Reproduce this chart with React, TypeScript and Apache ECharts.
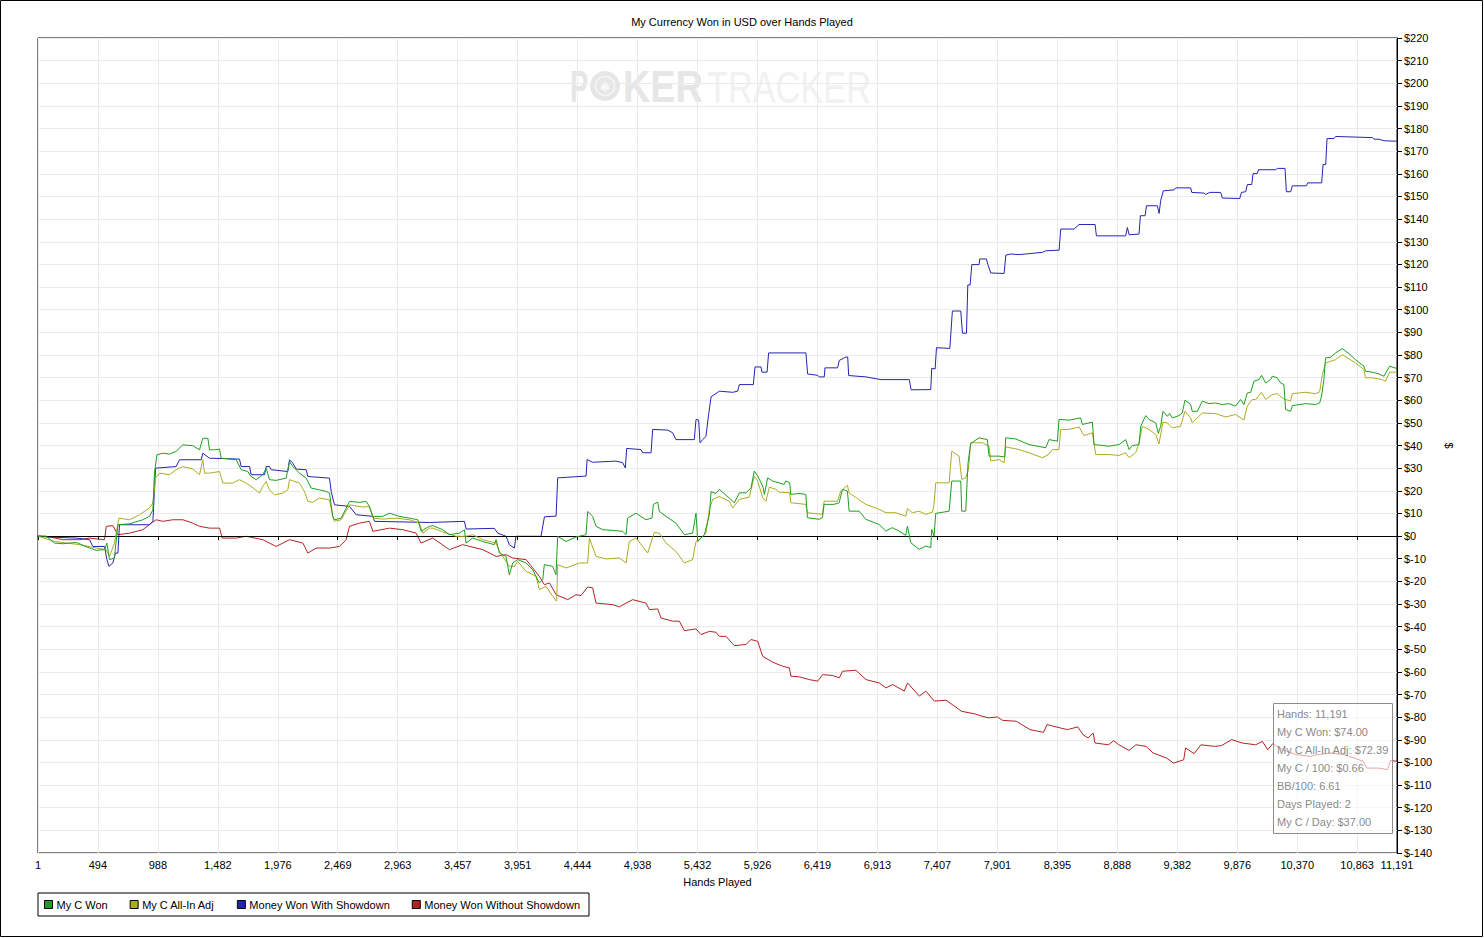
import React, { useEffect, useRef } from "react";
import * as echarts from "echarts";

const FONT = '"Liberation Sans", Arial, Helvetica, sans-serif';

const chartTitle = "My Currency Won in USD over Hands Played";
const xAxisName = "Hands Played";
const yAxisName = "$";
const xTickValues = [1, 494, 988, 1482, 1976, 2469, 2963, 3457, 3951, 4444, 4938, 5432, 5926, 6419, 6913, 7407, 7901, 8395, 8888, 9382, 9876, 10370, 10863, 11191];
const seriesNames = ["My C Won", "My C All-In Adj", "Money Won With Showdown", "Money Won Without Showdown"];
const seriesColors = ["#1ea01e", "#acac22", "#2424b4", "#b42222"];
const tooltipLines = [
  "Hands: 11,191",
  "My C Won: $74.00",
  "My C All-In Adj: $72.39",
  "My C / 100: $0.66",
  "BB/100: 6.61",
  "Days Played: 2",
  "My C / Day: $37.00",
];

const myCWon = [
  [1,0],[69,-0.1],[137,-3.1],[206,-3.4],[316,-2.8],[425,-5.3],[480,-6.3],[549,-6.0],[568,-3.1],[590,-10.4],[630,-9.7],[659,5.0],[755,5.4],[864,7.2],[919,8.7],[947,11.6],[960,27.8],[980,35.9],[1029,36.6],[1084,36.2],[1139,37.4],[1194,40.3],[1276,39.9],[1331,38.1],[1358,43.2],[1400,43.2],[1413,38.1],[1454,38.1],[1496,38.4],[1509,34.4],[1578,34.0],[1633,33.7],[1674,29.3],[1729,28.5],[1756,26.3],[1797,24.9],[1852,27.1],[1880,30.0],[1907,24.9],[1962,24.6],[2044,25.6],[2072,32.9],[2099,30.7],[2154,27.8],[2209,25.6],[2250,21.2],[2319,20.4],[2374,19.7],[2401,19.0],[2428,8.7],[2442,7.2],[2497,7.9],[2566,15.3],[2648,14.9],[2703,15.3],[2730,13.1],[2758,8.7],[2840,8.7],[2895,10.1],[2977,8.7],[3060,7.9],[3128,7.2],[3156,2.1],[3197,3.5],[3224,4.3],
  [3251,4.6],[3334,2.8],[3388,0.6],[3471,1.3],[3512,2.8],[3526,-3.1],[3580,-0.9],[3663,-2.4],[3759,-3.8],[3773,-1.6],[3800,-7.5],[3855,-9.0],[3882,-17.1],[3910,-11.9],[3951,-10.4],[4020,-11.9],[4074,-14.9],[4129,-20.7],[4157,-19.3],[4170,-12.6],[4239,-13.4],[4266,-17.1],[4280,-0.1],[4349,-2.4],[4431,-0.4],[4513,0.6],[4527,10.9],[4568,8.7],[4596,4.3],[4651,2.8],[4733,2.5],[4815,2.1],[4843,0.6],[4856,7.9],[4925,10.1],[5007,7.2],[5057,8.0],[5068,14.0],[5103,15.0],[5117,10.9],[5172,8.7],[5254,5.7],[5323,0.6],[5391,1.3],[5419,10.1],[5433,-2.4],[5488,0.6],[5529,9.4],[5543,19.6],[5584,18.8],[5611,20.6],[5693,16.8],[5735,14.7],[5776,19.1],[5831,19.1],[5872,21.3],[5899,28.7],[5927,26.5],[5968,22.1],[5982,18.4],[6009,25.7],[6050,24.3],
  [6103,23.5],[6145,22.8],[6158,24.3],[6191,23.5],[6199,18.4],[6268,18.8],[6323,18.4],[6337,8.1],[6433,7.4],[6460,8.1],[6474,14.0],[6556,14.0],[6597,14.7],[6625,20.6],[6652,20.1],[6666,19.9],[6680,11.0],[6762,11.0],[6817,7.4],[6927,5.1],[6982,2.2],[7036,3.7],[7091,2.2],[7146,0.3],[7160,4.4],[7187,-2.9],[7256,-5.9],[7311,-4.4],[7352,-5.1],[7360,2.9],[7379,0],[7393,10.0],[7503,11.0],[7525,24.3],[7599,24.3],[7607,11.0],[7640,11.0],[7659,32.4],[7681,40.9],[7750,43.4],[7818,42.6],[7832,35.3],[7914,35.3],[7961,34.9],[7969,43.4],[8052,42.9],[8161,40.4],[8299,39.0],[8326,42.6],[8395,41.9],[8408,51.5],[8491,51.2],[8587,52.2],[8600,49.3],[8683,50.3],[8696,40.4],[8820,39.7],[8902,40.4],[8957,42.6],[8985,38.2],[9012,40.0],[9067,40.4],[9081,48.5],[9122,53.2],
  [9149,51.5],[9204,50.0],[9226,45.3],[9245,48.5],[9264,55.1],[9300,52.9],[9319,54.1],[9341,52.2],[9396,53.2],[9423,54.4],[9445,60.0],[9492,58.1],[9505,55.1],[9547,55.1],[9588,59.6],[9643,58.5],[9698,58.8],[9752,58.1],[9807,58.5],[9862,57.4],[9903,60.3],[9931,58.1],[9958,63.2],[9986,63.5],[10013,68.4],[10054,69.1],[10076,71.0],[10109,67.6],[10150,69.1],[10164,70.6],[10205,69.9],[10233,67.6],[10260,66.9],[10274,55.9],[10315,55.1],[10329,57.6],[10438,58.5],[10521,58.1],[10554,58.8],[10570,61.8],[10589,69.1],[10603,78.7],[10644,79.0],[10685,80.9],[10740,82.8],[10795,80.6],[10850,77.9],[10919,75.0],[10932,72.8],[10987,72.4],[11042,71.6],[11083,70.6],[11130,75.0],[11191,74.0],
];

const myCAllInAdj = [
  [1,0],[137,-2.4],[343,-3.8],[480,-5.3],[563,-6.0],[590,-9.0],[631,-3.1],[667,7.9],[755,7.2],[837,9.4],[919,12.4],[947,14.6],[969,25.6],[1002,27.8],[1084,27.1],[1139,29.3],[1194,30.7],[1276,29.6],[1331,27.1],[1358,33.7],[1372,27.8],[1413,27.8],[1496,28.5],[1523,23.4],[1605,23.4],[1660,24.9],[1715,23.4],[1756,21.9],[1825,19.0],[1852,21.9],[1880,24.1],[1907,20.4],[1948,18.2],[2017,19.0],[2058,20.4],[2072,24.9],[2154,23.4],[2195,19.7],[2223,15.3],[2264,14.9],[2319,16.8],[2401,16.0],[2428,8.7],[2442,6.5],[2497,7.2],[2566,13.8],[2675,12.8],[2730,13.1],[2758,7.9],[2840,7.5],[2950,7.9],[3060,7.2],[3142,5.7],[3169,1.3],[3224,3.5],
  [3251,3.5],[3361,1.3],[3443,-0.1],[3526,-0.1],[3580,0.6],[3663,-1.6],[3773,-3.1],[3800,-6.8],[3882,-13.4],[3923,-13.4],[3951,-11.2],[4020,-15.6],[4102,-17.8],[4129,-23.7],[4184,-22.2],[4239,-26.6],[4272,-28.8],[4280,-12.6],[4349,-14.1],[4459,-11.9],[4527,-11.9],[4541,-0.9],[4596,-9.0],[4678,-10.1],[4788,-9.7],[4843,-11.9],[4870,-2.4],[4925,-0.9],[5021,-7.5],[5076,1.6],[5117,1.3],[5172,-3.1],[5254,-6.8],[5323,-11.9],[5391,-10.4],[5419,-2.4],[5460,-0.9],[5501,1.3],[5529,11.8],[5556,16.2],[5611,17.5],[5693,15.4],[5721,12.4],[5776,16.2],[5858,17.2],[5899,26.5],[5927,24.3],[5968,16.9],[5995,15.4],[6023,21.6],[6078,20.6],
  [6103,19.4],[6191,19.1],[6199,14.7],[6323,14.0],[6337,10.3],[6460,9.6],[6474,15.4],[6584,15.4],[6611,19.9],[6666,22.4],[6680,19.1],[6817,14.0],[6927,11.8],[6982,10.3],[7064,10.3],[7146,8.8],[7160,12.1],[7201,10.3],[7256,11.0],[7311,9.6],[7366,10.6],[7379,14.0],[7393,23.5],[7503,23.5],[7525,37.5],[7585,35.3],[7607,25.0],[7640,25.7],[7662,29.4],[7681,41.2],[7777,41.2],[7832,39.7],[7846,33.1],[7914,33.8],[7956,32.4],[7969,39.4],[8079,38.2],[8161,36.8],[8271,34.6],[8321,36.0],[8353,38.2],[8408,38.2],[8422,47.1],[8491,47.1],[8573,48.2],[8614,44.4],[8683,45.6],[8710,36.0],[8820,36.0],[8902,35.6],[8957,36.8],[8985,34.6],[9039,36.8],[9067,41.2],[9094,48.5],
  [9149,47.1],[9204,44.9],[9231,40.7],[9264,50.3],[9300,50.0],[9341,47.8],[9409,48.5],[9445,55.1],[9492,52.2],[9505,50.0],[9588,54.4],[9698,54.1],[9780,52.6],[9862,53.7],[9931,51.2],[9958,57.4],[9999,60.3],[10027,60.3],[10076,63.5],[10109,60.3],[10164,62.5],[10205,62.9],[10246,61.0],[10274,60.3],[10315,59.6],[10329,62.9],[10438,63.5],[10521,62.9],[10554,63.7],[10576,71.3],[10603,76.5],[10685,77.9],[10740,80.1],[10850,76.5],[10919,73.5],[10932,69.9],[10987,69.9],[11070,69.1],[11097,68.4],[11130,72.4],[11191,72.39],
];

const wonWithShowdown = [
  [1,0],[69,-0.4],[316,-0.9],[425,-1.6],[453,-4.6],[549,-4.6],[568,-10.4],[585,-13.4],[617,-11.9],[639,-7.5],[659,-7.5],[672,5.0],[919,5.0],[947,6.5],[969,30.0],[1139,30.7],[1166,33.7],[1345,33.7],[1358,36.6],[1413,34.4],[1660,34.0],[1674,30.7],[1743,30.7],[1756,27.1],[1866,27.1],[1880,30.7],[1907,30.7],[1921,29.3],[2058,28.5],[2072,33.7],[2099,32.2],[2127,29.6],[2209,29.3],[2223,26.3],[2401,25.6],[2415,19.7],[2442,13.8],[2566,13.1],[2621,9.4],[2758,8.7],[2772,6.5],[3224,6.0],
  [3512,6.5],[3526,3.1],[3759,3.4],[3786,1.3],[3855,-0.1],[3882,-3.8],[3923,-5.3],[3937,-0.1],[4143,-0.1],[4171,8.5],[4267,8.8],[4280,25.7],[4514,26.5],[4522,33.8],[4568,32.6],[4760,33.1],[4815,32.4],[4837,30.1],[4848,38.7],[4966,38.2],[4980,36.8],[5049,36.8],[5062,47.1],[5186,46.8],[5227,45.6],[5254,42.6],[5405,42.6],[5419,51.5],[5441,51.2],[5452,41.2],[5474,42.6],[5501,44.1],[5523,53.7],[5543,61.5],[5611,64.0],[5721,63.5],[5762,64.0],[5776,66.9],[5891,66.9],[5905,74.7],[5954,74.7],[5962,72.4],[6004,72.4],[6017,80.9],[6324,80.9],[6338,71.6],[6421,71.0],[6434,70.3],[6475,70.3],[6481,74.3],[6585,74.3],[6599,77.6],[6654,79.1],[6668,79.1],[6676,70.9],[6819,70.3],[6942,69.1],[7175,69.1],[7190,64.6],[7352,64.7],
  [7360,74.1],[7388,73.8],[7399,83.2],[7509,82.9],[7530,99.4],[7599,99.4],[7613,89.6],[7646,89.6],[7657,110.9],[7676,110.9],[7690,119.9],[7750,119.9],[7755,122.4],[7810,122.4],[7821,120.1],[7846,116.2],[7956,116.0],[7970,124.1],[8011,124.6],[8079,124.3],[8134,124.6],[8271,125.3],[8299,126.0],[8409,126.3],[8422,135.6],[8532,135.6],[8573,137.6],[8705,137.6],[8716,132.6],[8957,132.6],[8971,136.3],[8985,133.1],[9067,133.4],[9078,141.5],[9117,141.5],[9128,145.9],[9218,145.9],[9232,142.5],[9245,148.1],[9267,152.5],[9355,152.9],[9369,153.8],[9492,153.8],[9501,151.8],[9602,151.5],[9616,150.9],[9649,151.8],[9739,151.8],[9753,149.3],[9896,149.1],[9910,151.8],[9945,152.1],[9959,155.3],[9995,155.3],[10006,160.1],[10041,160.1],[10050,161.8],[10192,161.8],[10206,162.4],[10269,162.4],[10280,152.1],[10316,152.1],[10329,154.7],[10445,154.7],[10456,156.0],[10571,156.0],[10582,164.1],[10604,164.1],[10615,175.6],[10672,175.6],[10686,176.5],[10988,176.0],[11002,175.3],[11043,175.3],[11084,174.6],[11191,174.4],
];

const wonWithoutShowdown = [
  [1,0],[69,-0.1],[206,-1.6],[343,-1.6],[425,-0.9],[549,-1.6],[563,4.3],[617,4.6],[659,0.6],[755,1.3],[864,2.8],[933,5.7],[974,7.2],[1029,6.5],[1111,7.2],[1194,7.2],[1276,5.7],[1331,4.3],[1413,3.5],[1496,3.5],[1518,-0.9],[1633,-0.9],[1715,-0.1],[1852,-1.6],[1962,-4.6],[2072,-1.6],[2182,-3.1],[2223,-7.5],[2291,-5.3],[2401,-5.3],[2483,-4.6],[2538,-1.6],[2566,4.3],[2648,5.7],[2730,6.5],[2758,2.1],[2895,3.5],[3005,2.8],[3114,1.3],[3155,-3.1],[3251,-0.9],[3388,-6.0],[3498,-3.8],[3663,-6.0],[3773,-9.0],[3855,-8.2],[3910,-9.7],[4020,-10.4],[4129,-17.8],[4171,-21.5],[4212,-20.7],[4267,-25.9],[4363,-28.1],[4431,-25.9],[4472,-26.3],[4527,-22.5],[4568,-22.9],[4596,-29.6],[4733,-30.3],[4788,-31.3],[4843,-29.6],[4898,-28.1],[5007,-29.6],[5035,-32.5],[5103,-32.2],[5131,-36.2],[5227,-37.6],[5282,-37.6],[5323,-41.8],[5419,-41.0],[5460,-43.5],[5529,-42.1],[5584,-42.5],[5611,-44.3],[5666,-44.3],[5735,-48.4],[5831,-47.9],[5872,-45.7],[5927,-46.5],[5968,-53.1],[6050,-55.7],[6132,-57.5],[6187,-58.2],[6201,-61.9],[6270,-62.2],[6352,-63.4],[6421,-64.1],[6462,-61.2],[6544,-61.6],[6599,-62.6],[6626,-59.7],[6736,-59.3],[6819,-63.4],[6928,-64.9],[6983,-67.1],[7038,-65.6],[7134,-68.5],[7161,-64.9],[7258,-70.7],[7312,-68.5],[7381,-72.9],[7477,-72.5],
  [7549,-75.2],[7605,-77.4],[7718,-78.6],[7774,-79.6],[7831,-80.3],[7901,-79.9],[7943,-81.4],[8056,-81.8],[8169,-85.5],[8281,-86.7],[8309,-83.3],[8422,-84.8],[8478,-85.5],[8563,-84.3],[8605,-87.7],[8647,-89.2],[8689,-87.0],[8704,-91.4],[8816,-92.2],[8858,-90.4],[8901,-92.2],[8985,-94.7],[9041,-92.2],[9126,-92.9],[9182,-95.8],[9295,-98.1],[9351,-100.3],[9435,-98.8],[9450,-93.6],[9520,-96.1],[9576,-92.2],[9689,-92.9],[9745,-92.6],[9830,-89.9],[9914,-91.4],[10027,-92.2],[10083,-90.7],[10126,-94.4],[10168,-91.7],[10252,-94.4],[10365,-96.6],[10478,-97.3],[10534,-96.6],[10647,-95.8],[10759,-96.6],[10914,-99.5],[10942,-102.5],[11041,-102.5],[11111,-103.2],[11139,-99.1],[11191,-99.5],
];

const seriesData = [myCWon, myCAllInAdj, wonWithShowdown, wonWithoutShowdown];
const seriesZ = [6, 5, 4, 3];

export default function App() {
  const ref = useRef<HTMLDivElement>(null);

  useEffect(() => {
    document.body.style.margin = "0";
    if (!ref.current) return;
    const chart = echarts.init(ref.current, null, { renderer: "svg" });

    const series: any[] = seriesNames.map((name, i) => ({
      name,
      type: "line",
      data: seriesData[i],
      showSymbol: false,
      symbol: "none",
      z: seriesZ[i],
      color: seriesColors[i],
      lineStyle: { color: seriesColors[i], width: 1 },
      itemStyle: { color: seriesColors[i], borderColor: "#000", borderWidth: 1 },
      emphasis: { disabled: true },
      ...(i === 0
        ? {
            markLine: {
              silent: true,
              symbol: ["none", "none"],
              label: { show: false },
              lineStyle: { color: "#000", width: 1, type: "solid" },
              emphasis: { disabled: true },
              data: [{ yAxis: 0 }],
            },
          }
        : {}),
    }));

    const tipX = 1273;
    const tipY = 703;
    const wmStyle = (text: string, font: string, fill: string, align: string) => ({
      text,
      font,
      fill,
      textAlign: align,
      textVerticalAlign: "middle",
      align,
      verticalAlign: "middle",
    });
    const graphics: any[] = [
      {
        type: "rect",
        z: 0,
        silent: true,
        shape: { x: 0.5, y: 0.5, width: 1482, height: 936 },
        style: { fill: "none", stroke: "#000", lineWidth: 1 },
      },
      { type: "text", z: 0, silent: true, x: 570, y: 87, scaleX: 0.62, style: wmStyle("P", `bold 44px ${FONT}`, "#e6e6e6", "left") },
      { type: "circle", z: 0, silent: true, shape: { cx: 605, cy: 86, r: 15 }, style: { fill: "#e6e6e6" } },
      { type: "circle", z: 0, silent: true, shape: { cx: 605, cy: 86, r: 9.5 }, style: { fill: "none", stroke: "#f6f6f6", lineWidth: 1.5 } },
      { type: "text", z: 0, silent: true, x: 605, y: 87, style: wmStyle("♠", `15px "DejaVu Sans", sans-serif`, "#f8f8f8", "center") },
      { type: "text", z: 0, silent: true, x: 623, y: 87, scaleX: 0.86, style: wmStyle("KER", `bold 44px ${FONT}`, "#e6e6e6", "left") },
      { type: "text", z: 0, silent: true, x: 707, y: 87, scaleX: 0.78, style: wmStyle("TRACKER", `44px ${FONT}`, "#f1f1f1", "left") },
      {
        type: "rect",
        z: 100,
        zlevel: 0,
        silent: true,
        shape: { x: tipX + 0.5, y: tipY + 0.5, width: 119, height: 130 },
        style: { fill: "rgba(255,255,255,0.6)", stroke: "#8c8c8c", lineWidth: 1 },
      },
      ...tooltipLines.map((t, i) => ({
        type: "text",
        z: 101,
        silent: true,
        x: tipX + 4,
        y: tipY + 11 + i * 18,
        style: wmStyle(t, `11px ${FONT}`, "#8a8a8a", "left"),
      })),
    ];

    chart.setOption({
      animation: false,
      backgroundColor: "#fff",
      textStyle: { fontFamily: FONT },
      title: {
        text: chartTitle,
        left: "center",
        top: 11,
        textStyle: { fontSize: 11, fontWeight: "normal", color: "#000", fontFamily: FONT },
      },
      grid: {
        left: 38,
        right: 87,
        top: 38,
        bottom: 85,
        show: true,
        borderColor: "#000",
        borderWidth: 1,
        containLabel: false,
        outerBoundsMode: "none",
      },
      legend: {
        data: seriesNames,
        left: 38,
        top: 893,
        orient: "horizontal",
        icon: "rect",
        itemWidth: 8,
        itemHeight: 8,
        itemGap: 22,
        padding: [6, 9, 6, 6],
        borderColor: "#000",
        borderWidth: 1,
        selectedMode: false,
        itemStyle: { borderColor: "#000", borderWidth: 1 },
        textStyle: { fontSize: 11, color: "#000", fontFamily: FONT, padding: [0, 0, 0, -1] },
      },
      xAxis: {
        type: "value",
        min: 1,
        max: 11191,
        name: xAxisName,
        nameLocation: "middle",
        nameGap: 23,
        nameTextStyle: { fontSize: 11, color: "#000", fontFamily: FONT },
        axisLine: { show: true, lineStyle: { color: "#000", width: 1 } },
        axisTick: { show: true, length: 4, customValues: xTickValues, lineStyle: { color: "#000" } },
        axisLabel: {
          customValues: xTickValues,
          fontSize: 11,
          color: "#000",
          margin: 6,
          fontFamily: FONT,
          formatter: (v: number) => Math.round(v).toLocaleString("en-US"),
        },
        splitLine: { show: true, lineStyle: { color: "#ebebeb", width: 1 } },
      },
      yAxis: {
        type: "value",
        position: "right",
        min: -140,
        max: 220,
        interval: 10,
        name: yAxisName,
        nameLocation: "middle",
        nameGap: 46,
        nameRotate: -90,
        nameTextStyle: { fontSize: 11, color: "#000", fontFamily: FONT },
        axisLine: { show: true, lineStyle: { color: "#000", width: 1 } },
        axisTick: { show: true, length: 5, inside: false, lineStyle: { color: "#000" } },
        axisLabel: {
          fontSize: 11,
          color: "#000",
          margin: 7,
          fontFamily: FONT,
          formatter: (v: number) => "$" + v,
        },
        splitLine: { show: true, lineStyle: { color: "#ebebeb", width: 1 } },
      },
      graphic: { elements: graphics },
      series,
    });

    return () => {
      chart.dispose();
    };
  }, []);

  return (
    <div
      ref={ref}
      style={{ position: "absolute", left: 0, top: 0, width: 1484, height: 938 }}
    />
  );
}
